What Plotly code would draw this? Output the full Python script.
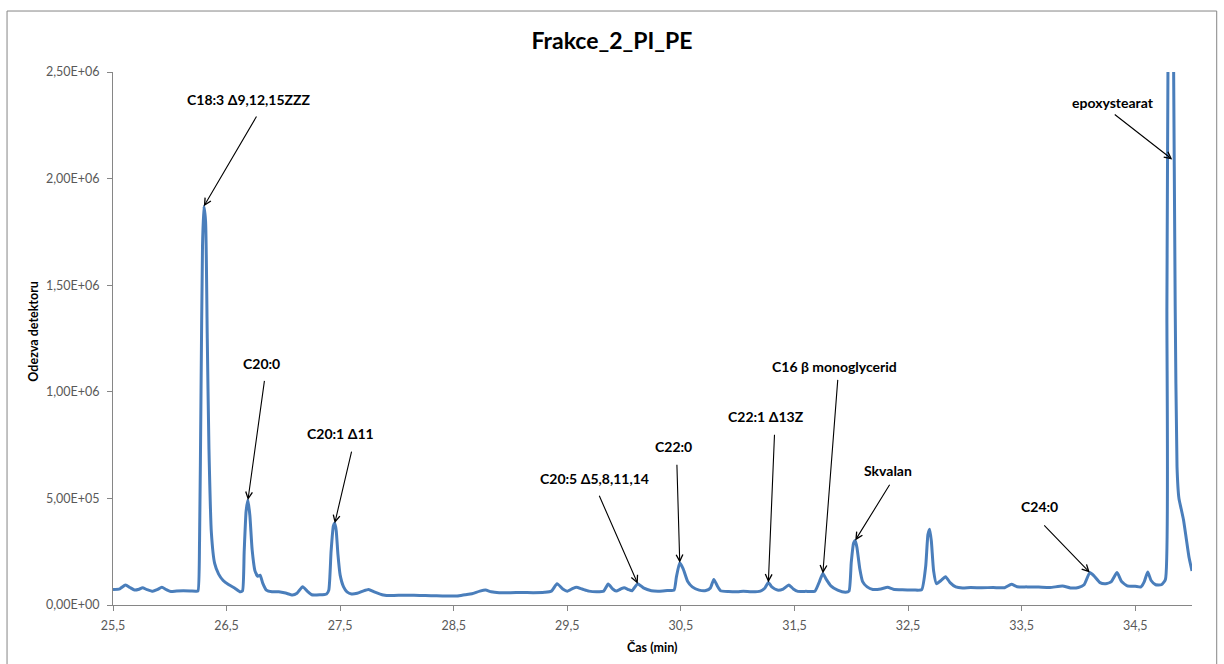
import plotly.graph_objects as go

# Retention time (min) and detector response of the chromatogram
times = [
    25.50, 25.56, 25.61, 25.65, 25.69, 25.73, 25.76, 25.80, 25.85, 25.89,
    25.93, 25.97, 26.01, 26.06, 26.12, 26.18, 26.23, 26.248, 26.262, 26.275,
    26.288, 26.300, 26.315, 26.330, 26.345, 26.366, 26.395, 26.43, 26.47, 26.52,
    26.57, 26.62, 26.64, 26.655, 26.672, 26.688, 26.705, 26.725, 26.75, 26.775,
    26.795, 26.82, 26.85, 26.90, 26.96, 27.02, 27.08, 27.12, 27.17, 27.21,
    27.25, 27.32, 27.38, 27.40, 27.42, 27.44, 27.452, 27.465, 27.48, 27.50,
    27.53, 27.56, 27.60, 27.65, 27.70, 27.75, 27.80, 27.88, 27.95, 28.05,
    28.15, 28.25, 28.35, 28.45, 28.53, 28.60, 28.66, 28.73, 28.78, 28.83,
    28.90, 29.00, 29.10, 29.20, 29.30, 29.36, 29.41, 29.46, 29.50, 29.55,
    29.58, 29.63, 29.69, 29.76, 29.82, 29.86, 29.90, 29.93, 29.97, 30.00,
    30.04, 30.07, 30.12, 30.17, 30.24, 30.31, 30.38, 30.44, 30.46, 30.49,
    30.52, 30.56, 30.60, 30.66, 30.72, 30.76, 30.79, 30.82, 30.85, 30.92,
    31.00, 31.05, 31.12, 31.20, 31.24, 31.27, 31.30, 31.35, 31.40, 31.45,
    31.49, 31.53, 31.60, 31.68, 31.72, 31.75, 31.78, 31.82, 31.88, 31.95,
    31.98, 32.00, 32.02, 32.035, 32.05, 32.075, 32.10, 32.14, 32.19, 32.26,
    32.32, 32.37, 32.45, 32.55, 32.62, 32.655, 32.675, 32.69, 32.705, 32.725,
    32.75, 32.79, 32.83, 32.87, 32.92, 32.98, 33.05, 33.15, 33.25, 33.35,
    33.41, 33.46, 33.55, 33.65, 33.75, 33.86, 33.93, 34.00, 34.05, 34.10,
    34.14, 34.19, 34.24, 34.29, 34.34, 34.38, 34.43, 34.50, 34.55, 34.58,
    34.61, 34.64, 34.68, 34.73, 34.766, 34.779, 34.790, 34.812, 34.836, 34.852,
    34.868, 34.885, 34.905, 34.925, 34.95, 34.975, 35.00,
]
response = [
    73000, 76000, 94000, 82000, 70000, 74000, 81000, 72000, 64000, 72000,
    83000, 72000, 63000, 66000, 67000, 66000, 65000, 66000, 300000, 1000000,
    1680000, 1870000, 1800000, 1250000, 730000, 340000, 195000, 145000, 115000, 95000,
    80000, 62000, 66000, 250000, 440000, 492000, 420000, 260000, 160000, 135000,
    140000, 100000, 70000, 62000, 62000, 56000, 47000, 55000, 86000, 65000,
    48000, 48000, 52000, 70000, 250000, 370000, 383000, 350000, 240000, 140000,
    85000, 62000, 52000, 55000, 65000, 73000, 62000, 47000, 44000, 46000,
    46000, 44000, 43000, 42000, 42000, 48000, 53000, 65000, 70000, 62000,
    58000, 58000, 59000, 58000, 60000, 65000, 100000, 75000, 65000, 78000,
    83000, 75000, 65000, 62000, 65000, 98000, 75000, 66000, 75000, 81000,
    72000, 67000, 100000, 80000, 67000, 65000, 68000, 70000, 130000, 198000,
    170000, 110000, 85000, 70000, 68000, 80000, 120000, 90000, 67000, 63000,
    62000, 65000, 62000, 65000, 80000, 106000, 85000, 70000, 75000, 94000,
    75000, 64000, 64000, 65000, 110000, 148000, 120000, 90000, 70000, 60000,
    65000, 200000, 290000, 303000, 270000, 170000, 110000, 85000, 73000, 75000,
    83000, 74000, 71000, 70000, 72000, 180000, 330000, 355000, 300000, 160000,
    100000, 115000, 133000, 105000, 85000, 80000, 82000, 81000, 82000, 81000,
    97000, 86000, 85000, 84000, 82000, 89000, 80000, 82000, 95000, 152000,
    135000, 105000, 100000, 110000, 152000, 110000, 90000, 88000, 85000, 110000,
    155000, 115000, 95000, 95000, 120000, 1400000, 2700000, 4000000, 2700000, 1400000,
    650000, 500000, 450000, 400000, 310000, 220000, 160000,
]

# Axis ticks
x_tick_values = [25.5, 26.5, 27.5, 28.5, 29.5, 30.5, 31.5, 32.5, 33.5, 34.5]
x_tick_labels = ["25,5", "26,5", "27,5", "28,5", "29,5", "30,5", "31,5", "32,5", "33,5", "34,5"]
y_tick_values = [0, 500000, 1000000, 1500000, 2000000, 2500000]
y_tick_labels = ["0,00E+00", "5,00E+05", "1,00E+06", "1,50E+06", "2,00E+06", "2,50E+06"]

# Peak labels: text, peak time, arrow tail offset (px), text offset (px)
peak_names = ["C18:3 Δ9,12,15ZZZ", "C20:0", "C20:1 Δ11", "C20:5 Δ5,8,11,14", "C22:0",
              "C22:1 Δ13Z", "C16 β monoglycerid", "Skvalan", "C24:0"]
peak_times = [26.300, 26.688, 27.452, 30.12, 30.49, 31.27, 31.75, 32.035, 34.10]
tail_dx = [53.5, 16.7, 17.2, -39.1, -2.9, 6.2, 15.0, 35.3, -47.0]
tail_dy = [-91.3, -120.8, -73.3, -89.4, -99.5, -149.1, -195.1, -57.1, -48.6]
text_dx = [44.8, 13.4, 5.9, -43.1, -6.2, -2.1, 11.7, 32.6, -50.3]
text_dy = [-107.3, -136.8, -90.0, -105.4, -116.1, -165.7, -206.7, -70.4, -65.9]

# The epoxystearate peak runs off the scale; its arrow points at the falling edge
epoxy_name = "epoxystearat"
epoxy_point = (34.826, 2090000)
epoxy_tail = (-59.0, -46.1)
epoxy_text = (-59.4, -57.1)

FONT = "Lato"
LINE_BLUE = "#4A7EBB"
AXIS_GREY = "#868686"

fig = go.Figure()
fig.add_trace(go.Scatter(
    x=times, y=response, mode="lines",
    line=dict(color=LINE_BLUE, width=3, shape="spline", smoothing=0.5),
    hoverinfo="skip", showlegend=False,
))

annotations = []


def add_label(name, x, y, tdx, tdy, xdx, xdy):
    annotations.append(dict(
        x=x, y=y, xref="x", yref="y", text="", showarrow=True,
        ax=tdx, ay=tdy, axref="pixel", ayref="pixel",
        arrowhead=5, arrowsize=1.2, arrowwidth=1.1, arrowcolor="#000000",
        font=dict(size=1),
    ))
    annotations.append(dict(
        x=x, y=y, xref="x", yref="y", text="<b>%s</b>" % name, showarrow=False,
        xshift=xdx, yshift=-xdy, xanchor="center", yanchor="middle",
        font=dict(family=FONT, size=14, color="#000000"),
    ))


for name, t, adx, ady, tdx, tdy in zip(peak_names, peak_times, tail_dx, tail_dy, text_dx, text_dy):
    add_label(name, t, response[times.index(t)], adx, ady, tdx, tdy)

add_label(epoxy_name, epoxy_point[0], epoxy_point[1],
          epoxy_tail[0], epoxy_tail[1], epoxy_text[0], epoxy_text[1])

# Axis titles
annotations.append(dict(
    x=-0.0745, y=0.514, xref="paper", yref="paper", showarrow=False,
    text="<b>Odezva detektoru</b>", textangle=-90,
    xanchor="center", yanchor="middle",
    font=dict(family=FONT, size=12.5, color="#000000"),
))
annotations.append(dict(
    x=0.4993, y=-0.0801, xref="paper", yref="paper", showarrow=False,
    text="<b>Čas (min)</b>",
    xanchor="center", yanchor="middle",
    font=dict(family=FONT, size=12.5, color="#000000"),
))

fig.update_layout(
    width=1224, height=664,
    margin=dict(l=113, r=32, t=72, b=59),
    paper_bgcolor="white", plot_bgcolor="white",
    title=dict(
        text="<b>Frakce_2_PI_PE</b>", x=0.5, xref="container", xanchor="center",
        y=1 - 41 / 664, yref="container", yanchor="middle",
        font=dict(family=FONT, size=23, color="#000000"),
    ),
    font=dict(family=FONT),
    annotations=annotations,
    shapes=[dict(
        type="rect", xref="paper", yref="paper",
        x0=-0.0982, x1=1.0229, y0=-0.122, y1=1.1144,
        line=dict(color=AXIS_GREY, width=1), layer="below",
    )],
)

fig.update_xaxes(
    range=[25.5, 35.0], showgrid=False, zeroline=False,
    showline=True, linecolor=AXIS_GREY, linewidth=1,
    ticks="outside", ticklen=5, tickcolor=AXIS_GREY, ticklabelstandoff=4,
    tickvals=x_tick_values, ticktext=x_tick_labels,
    tickfont=dict(family=FONT, size=12.5, color="#595959"),
)
fig.update_yaxes(
    range=[0, 2500000], showgrid=False, zeroline=False,
    showline=True, linecolor=AXIS_GREY, linewidth=1,
    ticks="outside", ticklen=5, tickcolor=AXIS_GREY, ticklabelstandoff=5,
    tickvals=y_tick_values, ticktext=y_tick_labels,
    tickfont=dict(family=FONT, size=12.5, color="#595959"),
)

fig.write_html("out.html")
